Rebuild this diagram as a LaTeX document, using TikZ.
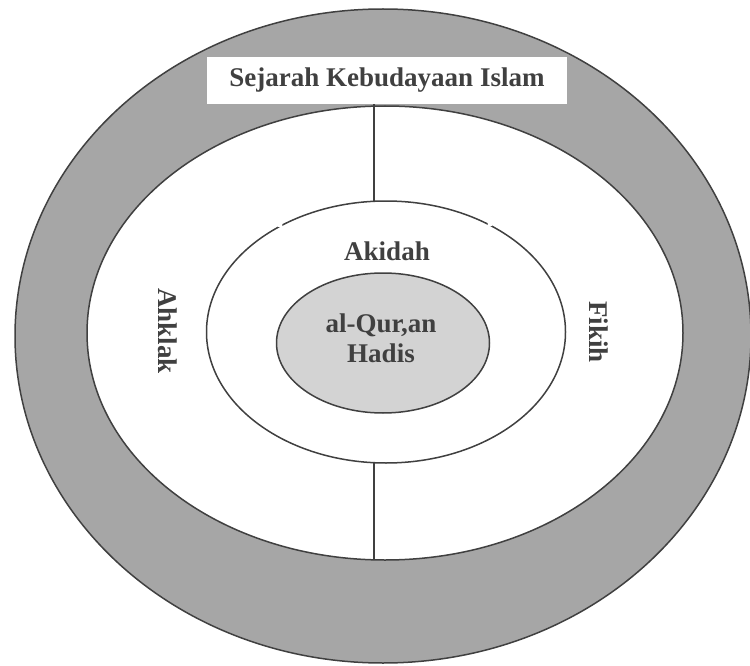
\documentclass[tikz,border=0pt]{standalone}
\usepackage{fontspec}
\setmainfont{Liberation Serif}
\usetikzlibrary{shapes.geometric}
\definecolor{ringgray}{HTML}{A6A6A6}
\definecolor{coregray}{HTML}{D3D3D3}
\definecolor{inkgray}{HTML}{404040}
\begin{document}
\begin{tikzpicture}[x=1pt,y=-1pt,
		ring/.style={ellipse,draw=inkgray,line width=1.5pt,inner sep=0pt,outer sep=0pt},
		label/.style={text=inkgray,font=\fontsize{27}{30}\selectfont\bfseries,inner sep=0pt,align=center}]
		\useasboundingbox (0,0) rectangle (750,666);
		\node[ring,fill=ringgray,minimum width=736,minimum height=654](outer) at (383,336){};
		\node[ring,fill=white,minimum width=596,minimum height=454](field) at (385,333){};
		\node[ring,fill=white,minimum width=359,minimum height=262](mid) at (386,332){};
		\node[ring,fill=coregray,minimum width=213,minimum height=140](core) at (383,343){};
		% small breaks in the middle ring
		\fill[white] (280,225) circle (2.5);
		\fill[white] (490,224) circle (2.5);
		\node[fill=white,minimum width=360,minimum height=47,inner sep=0pt](box) at (387,80.5){};
		\node[label](sejarah) at (box.center){Sejarah Kebudayaan Islam};
		\coordinate (axis) at (374,0);
		\draw[inkgray,line width=1.5pt] (box.south -| axis) -- (mid.north -| axis);
		\draw[inkgray,line width=1.5pt] (mid.south -| axis) -- (field.south -| axis);
		\node[label](akidah) at (387,251){Akidah};
		\node[label,rotate=-90](akhlak) at (168,331){Ahklak};
		\node[label,rotate=-90](fikih) at (599,332){Fikih};
		\node[label](quran) at (381,338){al-Qur,an\\Hadis};
	\end{tikzpicture}
\end{document}
